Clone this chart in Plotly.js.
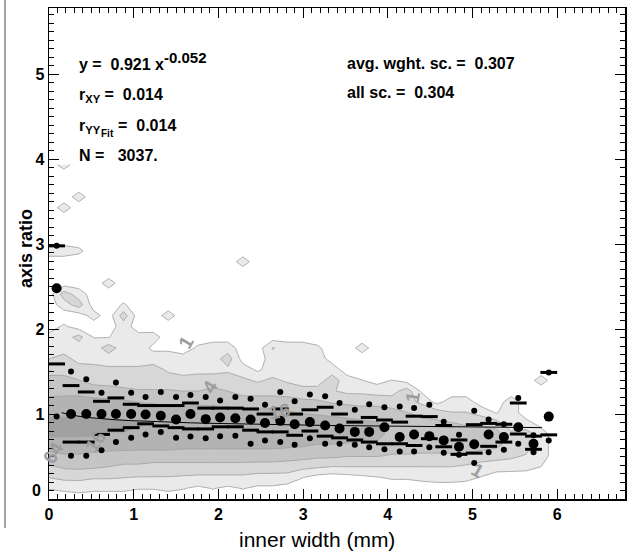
<!DOCTYPE html>
<html><head><meta charset="utf-8">
<script src="https://cdn.plot.ly/plotly-3.0.1.min.js"></script>
<style>html,body{margin:0;padding:0;background:#fff}#chart{width:627px;height:557px}</style>
</head><body><div id="chart"></div>
<script>
// ---- per-bin statistics (inner width bins) ----
const binX = [0.09,0.26,0.44,0.62,0.79,0.97,1.14,1.32,1.50,1.67,1.85,2.02,2.20,2.38,2.55,2.73,2.90,3.08,3.26,3.43,3.61,3.78,3.96,4.14,4.31,4.49,4.66,4.84,5.02,5.19,5.37,5.54,5.72,5.90];
const p90 = [2.98,1.50,1.41,1.25,1.37,1.25,1.20,1.26,1.20,1.225,1.20,1.16,1.20,1.18,1.11,1.26,1.15,1.23,1.21,1.13,1.05,1.115,1.08,1.09,1.07,1.11,0.91,0.755,1.04,0.935,0.88,1.19,0.75,1.49];
const q75 = [2.98,1.335,1.26,1.15,1.19,1.115,1.10,1.10,1.10,1.13,1.07,1.07,1.07,1.06,1.00,1.06,1.00,1.05,1.08,1.00,0.905,0.96,0.93,0.905,0.975,0.97,0.865,0.695,0.875,0.89,0.88,1.13,0.74,1.49];
const med = [2.48,1.00,1.00,1.00,1.00,1.00,0.995,0.98,0.935,1.00,0.94,0.96,0.95,0.935,0.895,0.92,0.88,0.905,0.865,0.83,0.79,0.79,0.845,0.73,0.76,0.74,0.69,0.615,0.645,0.76,0.73,0.845,0.65,0.97];
const q25 = [1.59,0.67,0.67,0.76,0.81,0.84,0.885,0.86,0.84,0.825,0.825,0.85,0.85,0.81,0.79,0.79,0.75,0.80,0.74,0.72,0.695,0.67,0.65,0.65,0.63,0.71,0.615,0.525,0.54,0.62,0.67,0.765,0.585,0.755];
const p10 = [0.97,0.51,0.51,0.575,0.67,0.72,0.76,0.79,0.72,0.735,0.715,0.74,0.745,0.65,0.69,0.67,0.64,0.715,0.65,0.65,0.64,0.61,0.585,0.56,0.56,0.61,0.545,0.52,0.425,0.55,0.58,0.65,0.55,0.69];

// power-law fit y = a x^b
const fitA = 0.921, fitB = -0.052;

// ---- density contour ----
const gridX = [0,0.176,0.352,0.528,0.704,0.88,1.056,1.232,1.408,1.584,1.76,1.936,2.112,2.288,2.464,2.64,2.816,2.992,3.168,3.344,3.52,3.696,3.872,4.048,4.224,4.4,4.576,4.752,4.928,5.104,5.28,5.456,5.632,5.808,5.984];
const gridY = [0,0.127,0.254,0.381,0.508,0.635,0.762,0.889,1.016,1.143,1.27,1.397,1.524,1.651,1.778,1.905,2.032,2.159,2.286,2.413,2.54,2.667,2.794,2.921,3.048,3.175,3.302,3.429,3.556,3.683,3.81,3.937];
const band1Lo = [0.12,0.1,0.08,0.1,0.1,0.1,0.12,0.12,0.1,0.12,0.15,0.12,0.15,0.12,0.15,0.15,0.18,0.25,0.3,0.32,0.3,0.28,0.26,0.24,0.24,0.22,0.2,0.2,0.22,0.26,0.32,0.33,0.34,0.38,null];
const band1Hi = [1.95,2.05,1.95,1.9,1.9,2.3,1.95,1.75,1.75,1.7,1.8,1.85,1.85,1.6,1.5,1.75,1.85,1.85,1.8,1.6,1.45,1.4,1.35,1.4,1.35,1.25,1.1,1.2,1.2,1.05,1.0,0.8,0.9,0.85,null];
const band2Lo = [0.25,0.22,0.22,0.24,0.24,0.25,0.26,0.26,0.26,0.27,0.28,0.28,0.28,0.28,0.3,0.3,0.3,0.34,0.36,0.38,0.38,0.38,0.38,0.38,0.38,0.38,0.38,0.38,0.4,0.43,0.46,0.48,0.52,null,null];
const band2Hi = [1.65,1.7,1.6,1.58,1.55,1.55,1.55,1.58,1.5,1.45,1.48,1.48,1.5,1.42,1.38,1.42,1.38,1.32,1.32,1.28,1.24,1.24,1.22,1.22,1.18,1.12,1.08,1.02,1.02,1.0,0.96,0.92,0.86,null,null];
const band3Lo = [0.4,0.36,0.35,0.36,0.38,0.4,0.4,0.42,0.42,0.42,0.42,0.42,0.42,0.42,0.43,0.43,0.45,0.46,0.48,0.48,0.5,0.5,0.5,0.52,0.52,0.53,0.53,0.53,0.54,0.57,0.6,null,null,null,null];
const band3Hi = [1.45,1.45,1.4,1.35,1.33,1.3,1.28,1.28,1.28,1.27,1.27,1.3,1.27,1.22,1.22,1.22,1.2,1.17,1.16,1.13,1.12,1.1,1.1,1.06,1.02,0.97,0.92,0.9,0.87,0.86,0.82,null,null,null,null];
const band4Lo = [0.55,0.52,0.52,0.54,0.56,0.57,0.58,0.58,0.58,0.6,0.6,0.6,0.6,0.6,0.6,0.6,0.61,0.62,0.64,0.64,0.65,0.67,0.67,null,null,null,null,null,null,null,null,null,null,null,null];
const band4Hi = [1.2,1.22,1.22,1.18,1.17,1.16,1.14,1.13,1.11,1.1,1.11,1.11,1.09,1.06,1.06,1.06,1.03,1.01,1.0,0.98,0.95,0.92,0.9,null,null,null,null,null,null,null,null,null,null,null,null];
const band5Lo = [0.74,0.74,0.74,0.75,0.77,0.77,0.78,0.79,null,null,null,null,null,null,null,null,null,null,null,null,null,null,null,null,null,null,null,null,null,null,null,null,null,null,null];
const band5Hi = [0.97,0.97,0.96,0.94,0.93,0.92,0.9,0.88,null,null,null,null,null,null,null,null,null,null,null,null,null,null,null,null,null,null,null,null,null,null,null,null,null,null,null];
// isolated cells: [column, row, extra level]
const islands = [[1,31,0.9],[2,28,0.9],[1,27,0.9],[0,23,1],[1,23,1],[2,23,0.7],[13,22,0.9],[4,20,0.9],
  [1,19,2],[2,18,2],[1,18,1],[2,19,1],[5,17,1],[8,17,0.9],[7,15,0.9],[3,17,0.9],
  [2,15,1],[4,14,1],[12,13,1],[15,14,1.3],[21,14,0.9],[19,11,1],[24,10,1],[33,11,0.9],[31,8,1],[31,9,1]];

const bands = [[band1Lo,band1Hi],[band2Lo,band2Hi],[band3Lo,band3Hi],[band4Lo,band4Hi],[band5Lo,band5Hi]];
const dy = gridY[1]-gridY[0];
const z = gridY.map(y => gridX.map((x,j) => {
  let s = 0;
  bands.forEach(([lo,hi]) => {
    if (lo[j] === null) return;
    const d = Math.min(y - lo[j], hi[j] - y);
    s += Math.max(0, Math.min(1, 0.5 + d/dy));
  });
  return s;
}));
islands.forEach(([j,i,v]) => { z[i][j] += v; });

const fitX = binX.slice(0);
fitX[0] = 0.15; fitX[fitX.length-1] = 5.82;
const fitY = fitX.map(x => fitA*Math.pow(x, fitB));

const FONT = 'Liberation Sans, Arial, Helvetica, sans-serif';
const traces = [
  {type:'contour', x:gridX, y:gridY, z:z, zmin:0, zmax:5, showscale:false, hoverinfo:'skip',
   contours:{start:0.5, end:4.5, size:1, coloring:'fill', showlabels:false},
   line:{color:'#a4a4a4', width:0.9, smoothing:0},
   colorscale:[[0,'#ffffff'],[0.2,'#eaeaea'],[0.4,'#d7d7d7'],[0.6,'#c5c5c5'],[0.8,'#b3b3b3'],[1,'#a1a1a1']]},
  {type:'scatter', mode:'lines', x:fitX, y:fitY, line:{color:'#000', width:1}, hoverinfo:'skip'},
  {type:'scatter', mode:'markers', x:binX.concat(binX), y:q75.concat(q25),
   marker:{symbol:'line-ew', size:12, color:'#000', line:{color:'#000', width:3}}, hoverinfo:'skip'},
  {type:'scatter', mode:'markers', x:binX.concat(binX), y:p90.concat(p10),
   marker:{symbol:'circle', size:6, color:'#000'}, hoverinfo:'skip'},
  {type:'scatter', mode:'markers', x:binX, y:med,
   marker:{symbol:'circle', size:10, color:'#000'}, hoverinfo:'skip'}
];

const px2x = p => (p-49)/576;
const py2y = p => (499-p)/491;
function txt(t, px, py, opts) {
  return Object.assign({xref:'paper', yref:'paper', x:px2x(px), y:py2y(py), text:t, showarrow:false,
    xanchor:'left', yanchor:'middle', font:{family:FONT, size:16, color:'#000', weight:'bold'}}, opts||{});
}
function lbl(t, x, y, ang) {
  return {xref:'x', yref:'y', x:x, y:y, text:t, showarrow:false, textangle:ang,
    xanchor:'center', yanchor:'middle',
    font:{family:FONT, size:19, color:'#9c9c9c', weight:'bold'}};
}
const annotations = [
  txt('y = &nbsp;0.921 x<sup><span style="font-size:15px">-0.052</span></sup>', 77, 61),
  txt('r<sub>XY</sub> = &nbsp;0.014', 77, 95),
  txt('r<sub>YY</sub>', 77, 126),
  txt('Fit', 99, 133, {font:{family:FONT, size:10, color:'#000', weight:'bold'}}),
  txt('= &nbsp;0.014', 116, 125),
  txt('N = &nbsp; 3037.', 77, 155),
  txt('avg. wght. sc. = &nbsp;0.307', 345, 63),
  txt('all sc. = &nbsp;0.304', 345, 92),
  txt('0', 43, 490, {xanchor:'right'}),
  {xref:'paper', yref:'paper', x:px2x(317), y:py2y(539), text:'inner width (mm)', showarrow:false,
   xanchor:'center', yanchor:'middle', font:{family:FONT, size:21, color:'#000'}},
  {xref:'paper', yref:'paper', x:px2x(26), y:py2y(249), text:'axis ratio', showarrow:false, textangle:-90,
   xanchor:'center', yanchor:'middle', font:{family:FONT, size:18, color:'#000', weight:'bold'}},
  lbl('1', 1.62, 1.84, -60),
  lbl('4', 1.9, 1.33, -60),
  lbl('16', 2.72, 1.03, -10),
  lbl('16', 0.55, 0.68, -55),
  lbl('64', 0.05, 0.55, -60),
  lbl('1', 4.29, 1.2, -80),
  lbl('1', 5.06, 0.33, 30)
];

const axisCommon = {
  showgrid:false, zeroline:false, showline:true, mirror:'allticks', linecolor:'#000', linewidth:1.5,
  ticks:'inside', ticklen:10, tickwidth:1, tickcolor:'#000',
  minor:{ticks:'inside', ticklen:5, tickwidth:1, tickcolor:'#000', dtick:0.1},
  tickfont:{family:FONT, size:16, color:'#000', weight:'bold'}
};
const layout = {
  width:627, height:557, margin:{l:49, r:2, t:8, b:58},
  paper_bgcolor:'#fff', plot_bgcolor:'#fff', showlegend:false,
  xaxis:Object.assign({}, axisCommon, {range:[0,6.8], tickvals:[0,1,2,3,4,5,6], ticktext:['0','1','2','3','4','5','6']}),
  yaxis:Object.assign({}, axisCommon, {range:[0,5.78], tickvals:[0,1,2,3,4,5], ticktext:['','1','2','3','4','5']}),
  annotations:annotations,
  shapes:[{type:'line', xref:'paper', yref:'paper', x0:px2x(5), x1:px2x(5), y0:py2y(528), y1:py2y(0),
    line:{color:'#888', width:1.5}}]
};
Plotly.newPlot('chart', traces, layout, {staticPlot:true});
</script></body></html>
